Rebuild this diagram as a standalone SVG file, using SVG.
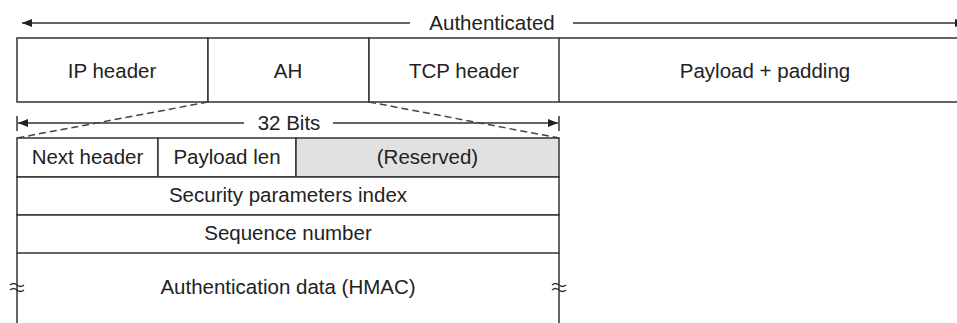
<svg xmlns="http://www.w3.org/2000/svg" width="957" height="323" viewBox="0 0 957 323">
<style>
  .ln { stroke: #333; stroke-width: 1.5; fill: none; }
  .cell { stroke: #333; stroke-width: 1.5; fill: #fff; }
  .gray { fill: #e1e1e1; }
  .t { font-family: "Liberation Sans", Arial, sans-serif; font-size: 20.5px; fill: #222; text-anchor: middle; }
  .dash { stroke: #444; stroke-width: 1.5; stroke-dasharray: 7 4; fill: none; }
</style>
<defs>
  <marker id="ah" viewBox="0 0 10 8" refX="10" refY="4" markerWidth="10" markerHeight="8" markerUnits="userSpaceOnUse" orient="auto-start-reverse">
    <path d="M0,0 L10,4 L0,8 Z" fill="#222"/>
  </marker>
</defs>
<rect width="957" height="323" fill="#fff"/>

<g id="authenticated">
  <line class="ln" x1="22" y1="23" x2="410" y2="23" marker-start="url(#ah)"/>
  <line class="ln" x1="573" y1="23" x2="965" y2="23" marker-end="url(#ah)"/>
  <text class="t" x="492" y="30">Authenticated</text>
</g>

<g id="ip-header">
  <rect class="cell" x="17" y="38" width="191" height="64"/>
  <text class="t" x="112" y="78">IP header</text>
</g>
<g id="ah-field">
  <rect class="cell" x="208" y="38" width="161" height="64"/>
  <text class="t" x="288" y="78">AH</text>
</g>
<g id="tcp-header">
  <rect class="cell" x="369" y="38" width="190" height="64"/>
  <text class="t" x="464" y="78">TCP header</text>
</g>
<g id="payload">
  <path class="ln" d="M559,38 H960 M559,102 H960"/>
  <text class="t" x="765" y="78">Payload + padding</text>
</g>

<g id="bits32">
  <line class="ln" x1="17" y1="116" x2="17" y2="131"/>
  <line class="ln" x1="559" y1="116" x2="559" y2="131"/>
  <line class="ln" x1="18" y1="123" x2="244" y2="123" marker-start="url(#ah)"/>
  <line class="ln" x1="333" y1="123" x2="558" y2="123" marker-end="url(#ah)"/>
  <text class="t" x="289" y="130">32 Bits</text>
</g>

<g id="connectors">
  <line class="dash" x1="208" y1="102" x2="17" y2="138"/>
  <line class="dash" x1="369" y1="102" x2="559" y2="138"/>
</g>

<g id="next-header">
  <rect class="cell" x="17" y="138" width="141" height="39"/>
  <text class="t" x="87.5" y="164">Next header</text>
</g>
<g id="payload-len">
  <rect class="cell" x="158" y="138" width="138" height="39"/>
  <text class="t" x="227" y="164">Payload len</text>
</g>
<g id="reserved">
  <rect class="cell gray" x="296" y="138" width="263" height="39"/>
  <text class="t" x="427.5" y="164">(Reserved)</text>
</g>
<g id="spi">
  <rect class="cell" x="17" y="177" width="542" height="38"/>
  <text class="t" x="288" y="202">Security parameters index</text>
</g>
<g id="seq">
  <rect class="cell" x="17" y="215" width="542" height="38"/>
  <text class="t" x="288" y="240">Sequence number</text>
</g>
<g id="auth-data">
  <path class="ln" d="M17,253 V330 M559,253 V330"/>
  <path class="ln" d="M10,285 q3.5,-3 7,0 t7,0 M10,290 q3.5,-3 7,0 t7,0" stroke-width="1.2"/>
  <path class="ln" d="M552,285 q3.5,-3 7,0 t7,0 M552,290 q3.5,-3 7,0 t7,0" stroke-width="1.2"/>
  <text class="t" x="288" y="294">Authentication data (HMAC)</text>
</g>
</svg>
